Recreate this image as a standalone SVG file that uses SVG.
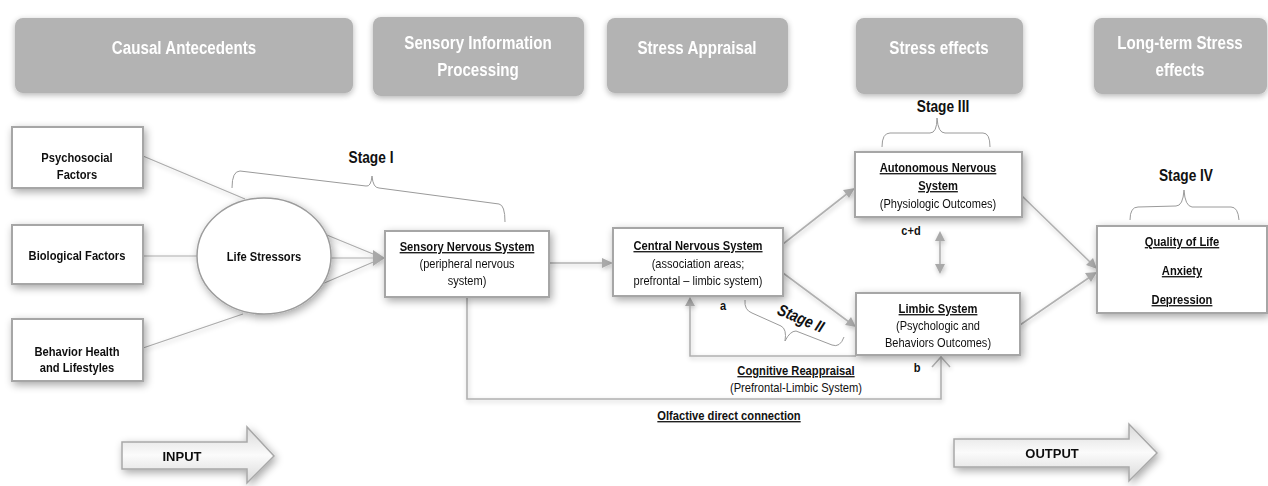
<svg xmlns="http://www.w3.org/2000/svg" width="1268" height="486" viewBox="0 0 1268 486">
<defs>
<style>
.t{font-family:"Liberation Sans Narrow","Arial Narrow","Liberation Sans",sans-serif;fill:#111;text-anchor:middle}
.b{font-weight:bold}
.u{text-decoration:underline}
.n{font-size:13px}
.hd{font-family:"Liberation Sans",sans-serif;font-weight:bold;font-size:18.5px;fill:#fff;text-anchor:middle}
.st{font-size:16.5px;font-weight:bold}
.hbox{fill:#b3b3b3}
.box{fill:#fff;stroke:#a6a6a6;stroke-width:2}
.ln{fill:none;stroke:#b0b0b0;stroke-width:1.6}
.thin{fill:none;stroke:#ababab;stroke-width:1.1}
.br{fill:none;stroke:#9a9a9a;stroke-width:1}
.ah{fill:#a9a9a9}
.big{fill:url(#ag);stroke:#a8a8a8;stroke-width:1.5}
.bt{font-family:"Liberation Sans",sans-serif;font-weight:bold;font-size:13px;fill:#111;text-anchor:middle}
</style>
<filter id="sh" x="-20%" y="-30%" width="140%" height="160%">
<feGaussianBlur in="SourceAlpha" stdDeviation="4"/>
<feOffset dx="2" dy="3" result="o"/>
<feComponentTransfer><feFuncA type="linear" slope="0.35"/></feComponentTransfer>
<feMerge><feMergeNode/><feMergeNode in="SourceGraphic"/></feMerge>
</filter>
<filter id="hs" x="-10%" y="-30%" width="120%" height="160%">
<feGaussianBlur in="SourceAlpha" stdDeviation="3"/>
<feOffset dx="0" dy="2"/>
<feComponentTransfer><feFuncA type="linear" slope="0.3"/></feComponentTransfer>
<feMerge><feMergeNode/><feMergeNode in="SourceGraphic"/></feMerge>
</filter>
<filter id="ls" x="-10%" y="-10%" width="120%" height="120%">
<feGaussianBlur in="SourceAlpha" stdDeviation="2.5"/>
<feOffset dx="1" dy="2"/>
<feComponentTransfer><feFuncA type="linear" slope="0.25"/></feComponentTransfer>
<feMerge><feMergeNode/><feMergeNode in="SourceGraphic"/></feMerge>
</filter>
<linearGradient id="ag" x1="0" y1="0" x2="0" y2="1">
<stop offset="0" stop-color="#d9d9d9"/>
<stop offset="0.5" stop-color="#fbfbfb"/>
<stop offset="1" stop-color="#d9d9d9"/>
</linearGradient>
</defs>
<rect width="1268" height="486" fill="#fff"/>

<g id="headers" filter="url(#hs)">
<g id="h-causal"><rect class="hbox" x="15" y="18" width="338" height="75" rx="8"/><text class="hd" transform="matrix(0.82 0 0 1 184 54)">Causal Antecedents</text></g>
<g id="h-sensory"><rect class="hbox" x="373" y="17" width="211" height="79" rx="8"/><text class="hd" transform="matrix(0.82 0 0 1 478 49)">Sensory Information</text><text class="hd" transform="matrix(0.82 0 0 1 478 76)">Processing</text></g>
<g id="h-appraisal"><rect class="hbox" x="607" y="18" width="181" height="75" rx="8"/><text class="hd" transform="matrix(0.82 0 0 1 697 54)">Stress Appraisal</text></g>
<g id="h-effects"><rect class="hbox" x="856" y="18" width="167" height="76" rx="8"/><text class="hd" transform="matrix(0.82 0 0 1 939 54)">Stress effects</text></g>
<g id="h-long"><rect class="hbox" x="1094" y="18" width="173" height="76" rx="8"/><text class="hd" transform="matrix(0.82 0 0 1 1180 49)">Long-term Stress</text><text class="hd" transform="matrix(0.82 0 0 1 1180 76)">effects</text></g>
</g>

<g id="connectors" filter="url(#ls)">
<line class="thin" x1="143" y1="156" x2="245" y2="199"/>
<line class="thin" x1="143" y1="256" x2="197" y2="256"/>
<line class="thin" x1="143" y1="348" x2="243" y2="314"/>
<line class="thin" x1="322" y1="233" x2="378" y2="256"/>
<line class="thin" x1="331" y1="258" x2="378" y2="258"/>
<line class="thin" x1="315" y1="287" x2="378" y2="260"/>
<polygon class="ah" points="373,250 385,258 373,266"/>
<line class="ln" x1="549" y1="263" x2="604" y2="263"/>
<polygon class="ah" points="602,258 613,263 602,268"/>
<line class="ln" x1="783" y1="244" x2="848" y2="193"/>
<polygon class="ah" points="855,188 849,198 843,190"/>
<line class="ln" x1="783" y1="273" x2="849" y2="322"/>
<polygon class="ah" points="856,327 845,325 851,317"/>
<line class="ln" x1="1022" y1="196" x2="1090" y2="262"/>
<polygon class="ah" points="1097,269 1086,265 1093,258"/>
<line class="ln" x1="1020" y1="325" x2="1090" y2="277"/>
<polygon class="ah" points="1097,272 1091,282 1085,273"/>
<line class="ln" x1="940" y1="238" x2="940" y2="267"/>
<polygon class="ah" points="940,231 945,241 935,241"/>
<polygon class="ah" points="940,274 945,264 935,264"/>
<polyline class="ln" points="856,356 690,356 690,304"/>
<polygon class="ah" points="690,297 695,306 685,306"/>
<polyline class="ln" points="467,297 467,399 941,399 941,358"/>
<polyline class="ln" points="932,367 941,357 950,367"/>
</g>

<g id="braces">
<path class="br" d="M232,188 Q232,171 240,171 L366,186 Q371,187 372,176 Q373,188 379,188 L499,204 Q505,205 505,222"/>
<path class="br" d="M882,147 Q882,133 890,133 L930,133 Q937,133 937,118 Q938,133 945,133 L983,133 Q990,133 990,147"/>
<path class="br" d="M1130,220 Q1130,207 1138,207 L1176,206 Q1183,206 1184,190 Q1185,206 1192,207 L1231,207 Q1238,207 1239,220"/>
<path class="br" d="M745,300 Q744,310 752,313 L781,326 Q787,329 785,341 Q790,331 796,331 L832,345 Q840,348 844,337"/>
</g>

<g id="labels">
<text class="t st" transform="matrix(0.83 0 0 1 371 163)">Stage I</text>
<text class="t st" transform="matrix(0.83 0 0 1 943 112)">Stage III</text>
<text class="t st" transform="matrix(0.83 0 0 1 1186 181)">Stage IV</text>
<text class="t st" font-style="italic" transform="translate(801 318) rotate(23) scale(0.83 1)" y="6">Stage II</text>
<text class="t b n" transform="matrix(0.85 0 0 1 723 310)">a</text>
<text class="t b n" transform="matrix(0.85 0 0 1 917 372)">b</text>
<text class="t b n" transform="matrix(0.85 0 0 1 911 235)">c+d</text>
<text class="t b n u" transform="matrix(0.86 0 0 1 796 375)">Cognitive Reappraisal</text>
<text class="t n" transform="matrix(0.86 0 0 1 796 392)">(Prefrontal-Limbic System)</text>
<text class="t b n u" transform="matrix(0.86 0 0 1 729 420)">Olfactive direct connection</text>
</g>

<g id="n-psychosocial" filter="url(#sh)"><rect class="box" x="12" y="127" width="131" height="61"/><text class="t b n" transform="matrix(0.86 0 0 1 77 162)">Psychosocial</text><text class="t b n" transform="matrix(0.86 0 0 1 77 179)">Factors</text></g>
<g id="n-biological" filter="url(#sh)"><rect class="box" x="12" y="225" width="131" height="59"/><text class="t b n" transform="matrix(0.86 0 0 1 77 260)">Biological Factors</text></g>
<g id="n-behavior" filter="url(#sh)"><rect class="box" x="12" y="319" width="131" height="62"/><text class="t b n" transform="matrix(0.86 0 0 1 77 356)">Behavior Health</text><text class="t b n" transform="matrix(0.86 0 0 1 77 372)">and Lifestyles</text></g>
<g id="n-life" filter="url(#sh)"><ellipse cx="264" cy="256" rx="67" ry="58" fill="#fff" stroke="#9c9c9c" stroke-width="1.5"/><text class="t b n" transform="matrix(0.86 0 0 1 264 261)">Life Stressors</text></g>
<g id="n-sensory" filter="url(#sh)"><rect class="box" x="385" y="231" width="164" height="66"/><text class="t b n u" transform="matrix(0.86 0 0 1 467 251)">Sensory Nervous System</text><text class="t n" transform="matrix(0.85 0 0 1 467 268)">(peripheral  nervous</text><text class="t n" transform="matrix(0.85 0 0 1 467 285)">system)</text></g>
<g id="n-cns" filter="url(#sh)"><rect class="box" x="613" y="228" width="170" height="68"/><text class="t b n u" transform="matrix(0.86 0 0 1 698 250)">Central Nervous System</text><text class="t n" transform="matrix(0.85 0 0 1 698 268)">(association  areas;</text><text class="t n" transform="matrix(0.85 0 0 1 698 285)">prefrontal – limbic system)</text></g>
<g id="n-ans" filter="url(#sh)"><rect class="box" x="855" y="152" width="167" height="65"/><text class="t b n u" transform="matrix(0.86 0 0 1 938 172)">Autonomous Nervous</text><text class="t b n u" transform="matrix(0.86 0 0 1 938 190)">System</text><text class="t n" transform="matrix(0.85 0 0 1 938 208)">(Physiologic  Outcomes)</text></g>
<g id="n-limbic" filter="url(#sh)"><rect class="box" x="856" y="293" width="164" height="62"/><text class="t b n u" transform="matrix(0.86 0 0 1 938 313)">Limbic System</text><text class="t n" transform="matrix(0.85 0 0 1 938 330)">(Psychologic and</text><text class="t n" transform="matrix(0.85 0 0 1 938 347)">Behaviors Outcomes)</text></g>
<g id="n-qol" filter="url(#sh)"><rect class="box" x="1097" y="226" width="170" height="87"/><text class="t b n u" transform="matrix(0.86 0 0 1 1182 246)">Quality of Life</text><text class="t b n u" transform="matrix(0.86 0 0 1 1182 275)">Anxiety</text><text class="t b n u" transform="matrix(0.86 0 0 1 1182 304)">Depression</text></g>

<g id="n-input" filter="url(#sh)"><polygon class="big" points="122,442 247,442 247,427 274,456 247,483 247,469 122,469"/><text class="bt" x="182" y="461">INPUT</text></g>
<g id="n-output" filter="url(#sh)"><polygon class="big" points="954,439 1129,439 1129,424 1157,453 1129,481 1129,467 954,467"/><text class="bt" x="1052" y="458">OUTPUT</text></g>
</svg>
